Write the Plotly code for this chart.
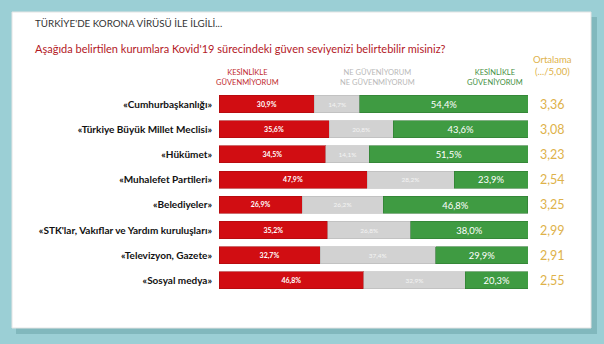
import plotly.graph_objects as go

# Survey results: trust in institutions during Covid-19
categories = [
    "«Cumhurbaşkanlığı»",
    "«Türkiye Büyük Millet Meclisi»",
    "«Hükümet»",
    "«Muhalefet Partileri»",
    "«Belediyeler»",
    "«STK'lar, Vakıflar ve Yardım kuruluşları»",
    "«Televizyon, Gazete»",
    "«Sosyal medya»",
]
distrust = [30.9, 35.6, 34.5, 47.9, 26.9, 35.2, 32.7, 46.8]
neutral = [14.7, 20.8, 14.1, 28.2, 26.2, 26.8, 37.4, 32.9]
trust = [54.4, 43.6, 51.5, 23.9, 46.8, 38.0, 29.9, 20.3]
averages = ["3,36", "3,08", "3,23", "2,54", "3,25", "2,99", "2,91", "2,55"]

W, H = 604, 344
FONT = "Lato"
RED = "#d10d12"
GREY = "#d2d2d2"
GREEN = "#3f9b42"
GOLD = "#deb24a"
TEAL = "#9bcfd5"

fig = go.Figure()

fig.add_trace(go.Bar(
    y=categories, x=distrust, orientation="h", marker=dict(color=RED, line=dict(color="#a80a0e", width=0.6)),
    texttemplate="%{x:.1f}%", textposition="inside", insidetextanchor="middle",
    textfont=dict(color="white", size=7, family=FONT, weight="bold"), width=0.68, name="distrust",
))
fig.add_trace(go.Bar(
    y=categories, x=neutral, orientation="h", marker=dict(color=GREY, line=dict(color="#b8b8b8", width=0.6)),
    texttemplate="%{x:.1f}%", textposition="inside", insidetextanchor="middle",
    textfont=dict(color="#f4f4f4", size=6.5, family=FONT), width=0.68, name="neutral",
))
fig.add_trace(go.Bar(
    y=categories, x=trust, orientation="h", marker=dict(color=GREEN, line=dict(color="#2f7a32", width=0.6)),
    texttemplate="%{x:.1f}%", textposition="inside", insidetextanchor="middle",
    textfont=dict(color="white", size=11, family=FONT), width=0.68, name="trust",
))

# Average score column
for cat, avg in zip(categories, averages):
    fig.add_annotation(x=552 / W, xref="paper", y=cat, yref="y", text=avg, showarrow=False,
                       font=dict(size=12.5, color=GOLD, family=FONT), xanchor="center")

# Panel shadow and white panel
fig.add_shape(type="rect", xref="paper", yref="paper", x0=16 / W, x1=597 / W, y0=1 - 334 / H, y1=1 - 17 / H,
              fillcolor="#6fa8ae", line=dict(width=0), layer="below", opacity=0.6)
fig.add_shape(type="rect", xref="paper", yref="paper", x0=12 / W, x1=591 / W, y0=1 - 328 / H, y1=1 - 12 / H,
              fillcolor="white", line=dict(color="#e4e4e4", width=1), layer="below")

# Titles
fig.add_annotation(x=33 / W, y=1 - 23 / H, xref="paper", yref="paper", xanchor="left", yanchor="middle",
                   text="TÜRKİYE'DE KORONA VİRÜSÜ İLE İLGİLİ...", showarrow=False,
                   font=dict(size=9.8, color="#333333", family=FONT))
fig.add_annotation(x=33 / W, y=1 - 48 / H, xref="paper", yref="paper", xanchor="left", yanchor="middle",
                   text="Aşağıda belirtilen kurumlara Kovid'19 sürecindeki güven seviyenizi belirtebilir misiniz?",
                   showarrow=False, font=dict(size=11, color="#b3181f", family=FONT))

# Column headers
headers = [
    (247, "KESİNLİKLE<br>GÜVENMİYORUM", "#c0282c"),
    (377, "NE GÜVENİYORUM<br>NE GÜVENMİYORUM", "#b8b8b8"),
    (495, "KESİNLİKLE<br>GÜVENİYORUM", "#3f8f3f"),
]
for xc, txt, col in headers:
    fig.add_annotation(x=xc / W, y=1 - 78 / H, xref="paper", yref="paper", xanchor="center", yanchor="middle",
                       text=txt, showarrow=False, font=dict(size=7.5, color=col, family=FONT))
fig.add_annotation(x=552 / W, y=1 - 65 / H, xref="paper", yref="paper", xanchor="center", yanchor="middle",
                   text="Ortalama<br>(.../5,00)", showarrow=False,
                   font=dict(size=9.5, color=GOLD, family=FONT))

fig.update_layout(
    width=W, height=H,
    barmode="stack", bargap=0.3,
    separators=", ",
    showlegend=False,
    paper_bgcolor=TEAL, plot_bgcolor="rgba(0,0,0,0)",
    margin=dict(l=0, r=0, t=0, b=0),
    xaxis=dict(domain=[219 / W, 528 / W], range=[0, 100], visible=False, fixedrange=True),
    yaxis=dict(domain=[(H - 293) / H, (H - 91.4) / H], autorange="reversed", showgrid=False,
               ticks="", ticklabelstandoff=6, zeroline=False, showline=False,
               tickfont=dict(size=10, color="#111111", family=FONT, weight="bold")),
)

fig.write_html("out.html")
